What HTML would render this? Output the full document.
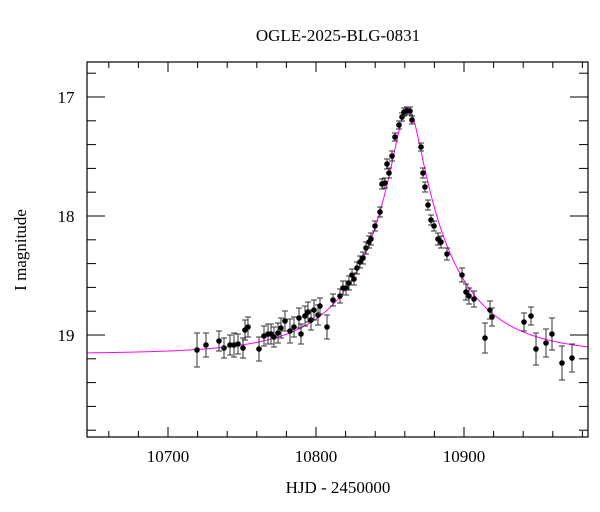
<!DOCTYPE html>
<html><head><meta charset="utf-8"><style>
html,body{margin:0;padding:0;background:#fff;}
svg{display:block;font-family:"Liberation Serif",serif;}
</style></head><body>
<svg id="s" width="600" height="512" viewBox="0 0 600 512" xmlns="http://www.w3.org/2000/svg">
<rect width="600" height="512" fill="#fff"/>
<text x="338" y="41" font-size="17" text-anchor="middle">OGLE-2025-BLG-0831</text>
<text x="338" y="493" font-size="17" text-anchor="middle">HJD - 2450000</text>
<text transform="translate(26,250) rotate(-90)" font-size="17" text-anchor="middle">I magnitude</text>
<g id="ticks" stroke="#000" stroke-width="1"></g>
<g id="labels" font-size="17" text-anchor="middle"></g>
<path id="model" fill="none" stroke="#ff00ff" stroke-width="1"/>
<g id="pts"></g>
<rect x="87" y="62" width="501" height="375" fill="none" stroke="#000" stroke-width="1.2"/>
</svg>
<script>
var L=87,R=588,T=62,B=437;
function X(t){return 168+(t-10700)*1.48;}
function Y(m){return 97+(m-17)*119;}
var tk=document.getElementById('ticks'),lb=document.getElementById('labels'),h='',l='';
for(var t=10660;t<=10980;t+=20){var x=X(t),big=(t%100==0),len=big?10:6;
h+='<line x1="'+x+'" y1="'+B+'" x2="'+x+'" y2="'+(B-len)+'"/><line x1="'+x+'" y1="'+T+'" x2="'+x+'" y2="'+(T+len)+'"/>';
if(big)l+='<text x="'+x+'" y="462">'+t+'</text>';}
for(var i=0;i<=15;i++){var m=16.8+i*0.2;var y=Y(m);if(y<T||y>B)continue;var big=Math.abs(m-Math.round(m))<1e-6,len=big?18:9;
h+='<line x1="'+L+'" y1="'+y+'" x2="'+(L+len)+'" y2="'+y+'"/><line x1="'+R+'" y1="'+y+'" x2="'+(R-len)+'" y2="'+y+'"/>';
if(big)l+='<text x="66" y="'+(y+6)+'">'+Math.round(m)+'</text>';}
tk.innerHTML=h;lb.innerHTML=l;
var t0=10862,u0=0.15,tE=60,Ib=19.16;
var d='';for(var px=L;px<=R;px+=1){var t=10700+(px-168)/1.48;var tau=(t-t0)/tE;var u=Math.sqrt(u0*u0+tau*tau);var A=(u*u+2)/(u*Math.sqrt(u*u+4));var m=Ib-2.5*Math.log10(A);d+=(px==L?'M':'L')+px+','+Y(m).toFixed(2);}
document.getElementById('model').setAttribute('d',d);
var P=[[197,350,17],[206,345,12],[219,341,10],[224,348,10],[230,345,10],[234,345,12],[238,344,10],[243,348,10],[245,330,10],[248,327,10],[259,349,12],[264,336,10],[268,334,10],[271,334,10],[274,337,10],[278,333,10],[281,328,10],[285,321,10],[290,331,12],[294,327,10],[299,318,10],[301,334,10],[305,316,10],[308,312,10],[311,320,10],[314,310,10],[318,315,10],[320,306,8],[327,327,12],[333,300,6],[340,296,7],[343,288,7],[346,288,7],[349,283,7],[352,275,6],[354,279,6],[357,268,6],[360,262,6],[363,258,6],[366,248,6],[369,242,6],[371,239,6],[375,226,5],[380,212,5],[382,184,5],[385,183,5],[387,164,5],[389,173,5],[392,156,5],[395,137,4],[399,125,4],[402,117,4],[404,112,4],[407,111,4],[410,111,4],[412,120,4],[421,147,4],[423,173,5],[425,187,5],[428,205,5],[431,220,5],[434,226,5],[438,239,6],[441,242,6],[447,254,6],[462,275,7],[466,292,8],[469,296,8],[474,299,8],[485,338,15],[490,310,9],[492,317,9],[524,322,9],[531,316,9],[536,349,16],[546,343,14],[552,334,16],[562,363,17],[572,358,14]];
var g='';P.forEach(function(p){var x=p[0],y=p[1],e=p[2];
g+='<line x1="'+x+'" y1="'+(y-e)+'" x2="'+x+'" y2="'+(y+e)+'" stroke="#333" stroke-width="1"/><line x1="'+(x-3)+'" y1="'+(y-e)+'" x2="'+(x+3)+'" y2="'+(y-e)+'" stroke="#333"/><line x1="'+(x-3)+'" y1="'+(y+e)+'" x2="'+(x+3)+'" y2="'+(y+e)+'" stroke="#333"/><circle cx="'+x+'" cy="'+y+'" r="2.8" fill="#000"/>';});
document.getElementById('pts').innerHTML=g;
</script>
</body></html>
